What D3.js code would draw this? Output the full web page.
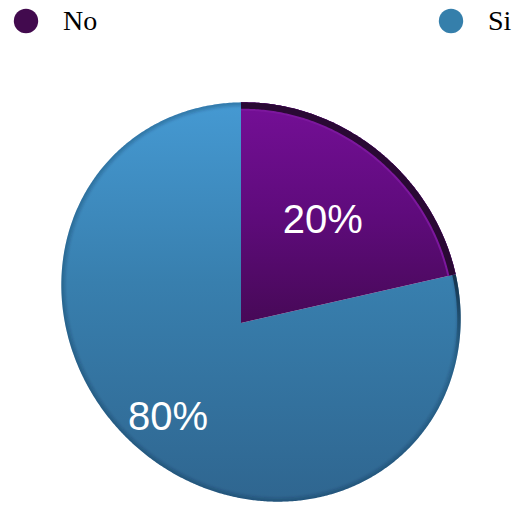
<!DOCTYPE html>
<html>
<head>
<meta charset="utf-8">
<script src="https://cdn.jsdelivr.net/npm/d3@7"></script>
<style>
  html, body { margin: 0; padding: 0; background: #ffffff; }
  svg { display: block; }
</style>
</head>
<body>
<svg id="chart" width="513" height="505"></svg>
<script>
// ---- data ----
const categories = ["No", "Si"];
const values = [20, 80];
const valueLabels = ["20%", "80%"];
const palette = ["#420a4e", "#357fab"];

// ---- layout ----
const svg = d3.select("#chart");
const defs = svg.append("defs");

// The pie lies on a tilted disc: its outline is an ellipse and the pie's
// centre (apex) is seen away from the ellipse centre.
const apex = { x: 241, y: 323 };
const rim = { cx: 261, cy: 302, a: 208, b: 191, tilt: Math.PI / 4 };
const cr = Math.cos(rim.tilt), sr = Math.sin(rim.tilt);

const toScreen = (u, v) => [rim.cx + rim.a * u * cr - rim.b * v * sr,
                            rim.cy + rim.a * u * sr + rim.b * v * cr];
const fromScreen = (x, y) => {
  const dx = x - rim.cx, dy = y - rim.cy;
  return [(dx * cr + dy * sr) / rim.a, (-dx * sr + dy * cr) / rim.b];
};

// complex helpers
const cmul = (p, q) => [p[0] * q[0] - p[1] * q[1], p[0] * q[1] + p[1] * q[0]];
const cdiv = (p, q) => {
  const d = q[0] * q[0] + q[1] * q[1];
  return [(p[0] * q[0] + p[1] * q[1]) / d, (p[1] * q[0] - p[0] * q[1]) / d];
};
const conj = p => [p[0], -p[1]];
const k2p = z => { const r2 = z[0] * z[0] + z[1] * z[1]; const f = 1 / (1 + Math.sqrt(Math.max(0, 1 - r2))); return [z[0] * f, z[1] * f]; };
const p2k = w => { const r2 = w[0] * w[0] + w[1] * w[1]; const f = 2 / (1 + r2); return [w[0] * f, w[1] * f]; };
const mob = (w, q) => { const cw = cmul(conj(q), w); return cdiv([w[0] + q[0], w[1] + q[1]], [1 + cw[0], cw[1]]); };

// perspective shift that moves the disc centre onto the apex
const q = k2p(fromScreen(apex.x, apex.y));

// orientation: angle 0 points straight up from the apex
const A1 = rim.a * cr, B1 = -rim.b * sr, D = apex.x - rim.cx;
const R1 = Math.hypot(A1, B1), del = Math.atan2(B1, A1), ac = Math.acos(D / R1);
const tTop = [del + ac, del - ac]
  .map(t => ({ t, y: rim.cy + rim.a * sr * Math.cos(t) + rim.b * cr * Math.sin(t) }))
  .sort((m, n) => m.y - n.y)[0].t;
const pre = mob([Math.cos(tTop), Math.sin(tTop)], [-q[0], -q[1]]);
const offset = Math.atan2(pre[1], pre[0]);

// pie angle (clockwise from 12 o'clock) and radius fraction -> screen point
function project(theta, r) {
  const z = [r * Math.cos(theta + offset), r * Math.sin(theta + offset)];
  const w = mob(k2p(z), q);
  const k = p2k(w);
  return toScreen(k[0], k[1]);
}

function arcPoints(a0, a1) {
  const n = Math.max(2, Math.ceil(Math.abs(a1 - a0) / (Math.PI / 360)));
  return d3.range(n + 1).map(i => project(a0 + (a1 - a0) * i / n, 1));
}

const line = d3.line();
const slicePath = d => line([[apex.x, apex.y], ...arcPoints(d.startAngle, d.endAngle)]) + "Z";

const pie = d3.pie().sort(null).value(d => d)
  .startAngle(0).endAngle(2 * Math.PI);
const arcs = pie(values);
const total = d3.sum(values);

const color = d3.scaleOrdinal(categories, palette);

// ---- shading ----
function vGrad(id, y1, y2, stops) {
  const g = defs.append("linearGradient").attr("id", id)
    .attr("gradientUnits", "userSpaceOnUse")
    .attr("x1", 0).attr("x2", 0).attr("y1", y1).attr("y2", y2);
  stops.forEach(([o, c, op]) => g.append("stop").attr("offset", o)
    .attr("stop-color", c).attr("stop-opacity", op == null ? 1 : op));
}
vGrad("fill-Si", 104, 500, [[0, "#4599d2"], [0.45, "#387fae"], [1, "#2f6690"]]);
vGrad("fill-No", 104, 323, [[0, "#740f96"], [0.5, "#5f0b7c"], [1, "#470957"]]);
vGrad("edge-Si", 272, 360, [[0, "#14324a", 1], [1, "#14324a", 0]]);

const blur = defs.append("filter").attr("id", "soft")
  .attr("x", "-5%").attr("y", "-5%").attr("width", "110%").attr("height", "110%");
blur.append("feGaussianBlur").attr("stdDeviation", 1.6);

const gPie = svg.append("g");

// slices: larger one first so the small one sits on top
[1, 0].forEach(i => {
  const d = arcs[i];
  defs.append("clipPath").attr("id", "clip-" + categories[i])
    .append("path").attr("d", slicePath(d));
  gPie.append("path")
    .attr("d", slicePath(d))
    .attr("fill", `url(#fill-${categories[i]})`);
});

// soft darkening along the outer edge of the disc
const outline = line(arcPoints(0, 2 * Math.PI)) + "Z";
defs.append("clipPath").attr("id", "clip-disc").append("path").attr("d", outline);
gPie.append("g")
  .attr("clip-path", "url(#clip-disc)")
  .append("path")
  .attr("d", outline)
  .attr("fill", "none")
  .attr("stroke", "#10293d")
  .attr("stroke-opacity", 0.25)
  .attr("stroke-width", 7)
  .attr("filter", "url(#soft)");

// side wall of the raised slice
const noArc = arcs[0];
const noRim = line(arcPoints(noArc.startAngle, noArc.endAngle));
gPie.append("path")
  .attr("d", noRim)
  .attr("fill", "none")
  .attr("stroke", "#7c179d")
  .attr("stroke-width", 17)
  .attr("clip-path", "url(#clip-No)");
gPie.append("path")
  .attr("d", noRim)
  .attr("fill", "none")
  .attr("stroke", "#2a0934")
  .attr("stroke-width", 13)
  .attr("clip-path", "url(#clip-No)");

// shadow cast on the big slice next to the raised one
const siArc = arcs[1];
gPie.append("path")
  .attr("d", line(arcPoints(siArc.startAngle, siArc.startAngle + 0.45)))
  .attr("fill", "none")
  .attr("stroke", "url(#edge-Si)")
  .attr("stroke-width", 7)
  .attr("clip-path", "url(#clip-Si)");

// value labels: larger slices carry their label a little further out
gPie.selectAll("text.value")
  .data(arcs)
  .join("text")
  .attr("class", "value")
  .each(function (d) {
    const mid = (d.startAngle + d.endAngle) / 2;
    const r = 0.62 + 0.1 * d.value / total;
    const [x, y] = project(mid, r);
    d3.select(this).attr("x", x).attr("y", y);
  })
  .attr("text-anchor", "middle")
  .attr("dominant-baseline", "central")
  .attr("fill", "#ffffff")
  .attr("font-family", "'Liberation Sans', Arial, Helvetica, sans-serif")
  .attr("font-size", 40)
  .text((d, i) => valueLabels[i]);

// ---- legend ----
const legendX = d3.scalePoint().domain(categories).range([26, 451]);
const legend = svg.append("g")
  .selectAll("g")
  .data(categories)
  .join("g")
  .attr("transform", d => `translate(${legendX(d)},21)`);
legend.append("circle").attr("r", 12.2).attr("fill", d => color(d));
legend.append("text")
  .attr("x", 37)
  .attr("y", 9)
  .attr("fill", "#000000")
  .attr("font-family", "'Liberation Serif', 'Times New Roman', serif")
  .attr("font-size", 28)
  .text(d => d);
</script>
</body>
</html>
